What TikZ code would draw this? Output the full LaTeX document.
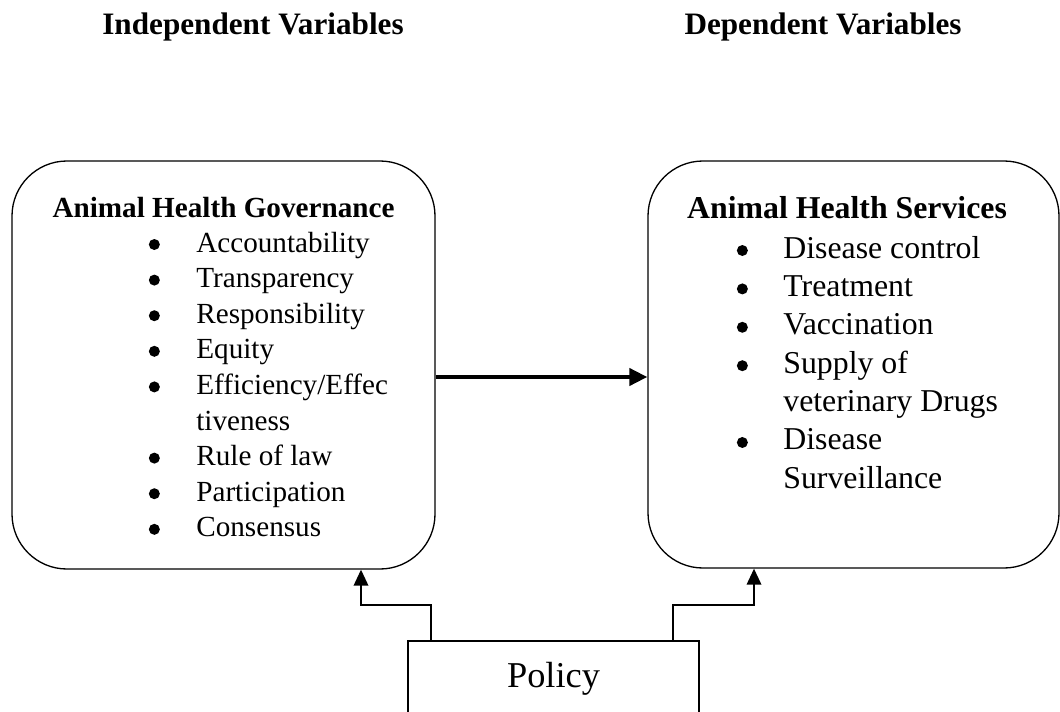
\documentclass[tikz,border=0pt]{standalone}
\usepackage{fontspec}
\setmainfont{Liberation Serif}
\usepackage{tikz}
\usetikzlibrary{arrows.meta, positioning}

% round list bullet, sits a little above the baseline
\newcommand{\listdot}{\tikz[baseline=0pt]\fill (0.11cm,0.15cm) circle (0.11cm);}

\begin{document}
\begin{tikzpicture}[
    varbox/.style={draw, rounded corners=1.1cm, line width=0.75pt},
    title/.style={font=\bfseries\fontsize{17.75}{21}\selectfont, inner sep=0pt},
    govfont/.style={font=\fontsize{16.6}{20.26}\selectfont, inner sep=0pt},
    srvfont/.style={font=\fontsize{18.1}{21.85}\selectfont, inner sep=0pt},
    feed/.style={-{Triangle[length=3.2mm,width=2.9mm]}, line width=1.1pt},
    mainarrow/.style={-{Triangle[length=3.6mm,width=3.4mm]}, line width=2.3pt}]
  \useasboundingbox (0,0) rectangle (21.2,14.22);

  % column titles
  \node[title, anchor=base] (indep) at (5.06,13.52) {Independent Variables};
  \node[title, anchor=base] (dep)   at (16.46,13.52) {Dependent Variables};

  % the two variable boxes
  \node[varbox, minimum width=8.46cm, minimum height=8.16cm] (gov) at (4.47,6.92) {};
  \node[varbox, minimum width=8.22cm, minimum height=8.14cm] (srv) at (17.07,6.93) {};

  \node[govfont, font=\bfseries\fontsize{16.6}{20.26}\selectfont, anchor=base]
    (govhead) at (4.47,9.88) {Animal Health Governance};
  \node[govfont, anchor=base west] (govlist) at (2.97,9.18) {%
    \begin{tabular}[t]{@{}p{0.95cm}@{}l@{}}
      \listdot & Accountability\\
      \listdot & Transparency\\
      \listdot & Responsibility\\
      \listdot & Equity\\
      \listdot & Efficiency/Effec\\
               & tiveness\\
      \listdot & Rule of law\\
      \listdot & Participation\\
      \listdot & Consensus
    \end{tabular}};

  \node[srvfont, font=\bfseries\fontsize{18.1}{21.85}\selectfont, anchor=base]
    (srvhead) at (16.94,9.86) {Animal Health Services};
  \node[srvfont, anchor=base west] (srvlist) at (14.73,9.06) {%
    \begin{tabular}[t]{@{}p{0.93cm}@{}l@{}}
      \listdot & Disease control\\
      \listdot & Treatment\\
      \listdot & Vaccination\\
      \listdot & Supply of\\
               & veterinary Drugs\\
      \listdot & Disease\\
               & Surveillance
    \end{tabular}};

  % policy box at the bottom
  \node[draw, line width=0.75pt, minimum width=5.82cm, minimum height=1.5cm,
        font=\fontsize{20.7}{24}\selectfont] (policy) at (11.07,0.65) {Policy};

  % arrows
  \draw[mainarrow] ([yshift=-0.24cm]gov.east) coordinate (ga) -- (ga -| srv.west);
  \coordinate (lbend) at (7.22,2.12);
  \coordinate (rbend) at (15.08,2.12);
  \draw[feed] ([xshift=0.48cm]policy.north west) |- (lbend) -- (lbend |- gov.south);
  \draw[feed] ([xshift=-0.54cm]policy.north east) |- (rbend) -- (rbend |- srv.south);
\end{tikzpicture}
\end{document}
